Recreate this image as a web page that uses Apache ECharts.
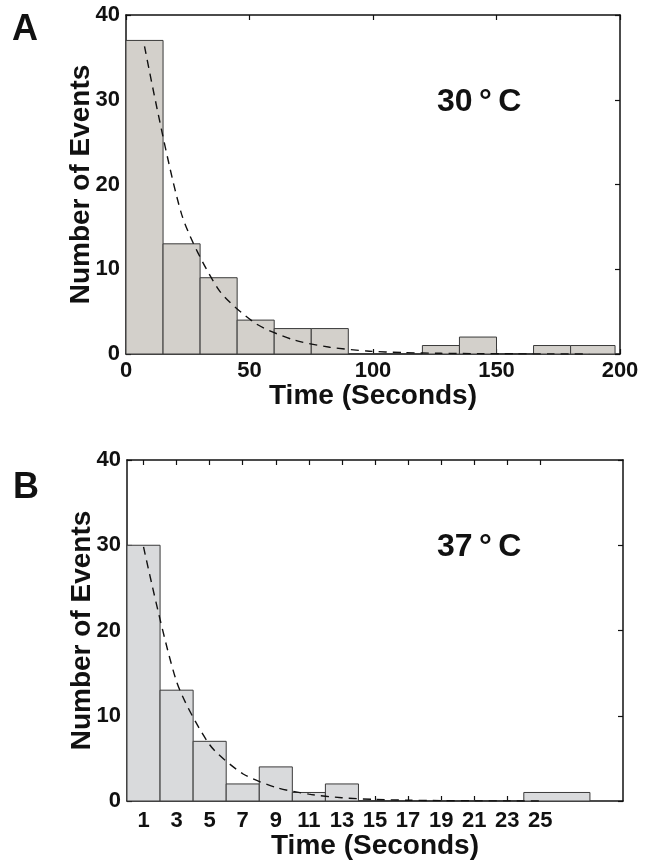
<!DOCTYPE html>
<html>
<head>
<meta charset="utf-8">
<script src="https://cdn.jsdelivr.net/npm/echarts@6/dist/echarts.min.js"></script>
<style>
html,body{margin:0;padding:0;background:#fff;}
#chart{width:649px;height:862px;}
</style>
</head>
<body>
<div id="chart"></div>
<script>
// ---- Panel A (30 °C) ----
const A_binStart = [0, 15, 30, 45, 60, 75, 90, 105, 120, 135, 150, 165, 180];
const A_binEnd   = [15, 30, 45, 60, 75, 90, 105, 120, 135, 150, 165, 180, 198];
const A_counts   = [37, 13, 9, 4, 3, 3, 0, 0, 1, 2, 0, 1, 1];
const A_fitX     = [7.5, 22.5, 37.5, 52.5, 67.5, 82.5, 97.5, 112.5, 127.5, 142.5, 157.5, 172.5, 187.5];
const A_fitY     = [36.3, 16.5, 7.6, 3.6, 1.7, 0.8, 0.35, 0.17, 0.08, 0.04, 0.02, 0.01, 0.0];
const A_xTicks   = [0, 50, 100, 150, 200];

// ---- Panel B (37 °C) ----
const B_binStart = [0, 2, 4, 6, 8, 10, 12, 14, 16, 18, 20, 22, 24];
const B_binEnd   = [2, 4, 6, 8, 10, 12, 14, 16, 18, 20, 22, 24, 28];
const B_counts   = [30, 13, 7, 2, 4, 1, 2, 0, 0, 0, 0, 0, 1];
const B_fitX     = [1, 3, 5, 7, 9, 11, 13, 15, 17, 19, 21, 23, 25];
const B_fitY     = [29.8, 14.0, 6.6, 3.2, 1.6, 0.8, 0.38, 0.18, 0.09, 0.04, 0.02, 0.01, 0.0];
const B_xTicks   = [1, 3, 5, 7, 9, 11, 13, 15, 17, 19, 21, 23, 25];

const yTicks = [0, 10, 20, 30, 40];
const yName = 'Number of Events';
const xName = 'Time (Seconds)';
const labelA = 'A', labelB = 'B';
const tempA = '30\u2009°\u2009C', tempB = '37\u2009°\u2009C';

const FONT = '"Liberation Sans", Arial, Helvetica, sans-serif';
const INK = '#111';

function zip3(a, b, c) { return a.map((v, i) => [v, b[i], c[i]]); }
function zip2(a, b) { return a.map((v, i) => [v, b[i]]); }

function barRender(fill) {
  return function (params, api) {
    const s = api.value(0), e = api.value(1), c = api.value(2);
    const p0 = api.coord([s, c]);
    const p1 = api.coord([e, 0]);
    return {
      type: 'rect',
      shape: { x: p0[0], y: p0[1], width: p1[0] - p0[0], height: p1[1] - p0[1] },
      style: { fill: fill, stroke: '#3a3a3a', lineWidth: 1 }
    };
  };
}

const axisLine = { show: true, onZero: false, lineStyle: { color: INK, width: 1.5 } };
const tick = { show: true, inside: true, length: 5, lineStyle: { color: INK, width: 1.2 } };
const lbl = { color: INK, fontFamily: FONT, fontWeight: 'bold', fontSize: 22 };
const nameStyle = { color: INK, fontFamily: FONT, fontWeight: 'bold', fontSize: 28 };

function yAxisPair(gi) {
  return [
    { type: 'value', gridIndex: gi, min: 0, max: 40, interval: 10, position: 'left',
      axisLine: axisLine, axisTick: tick, splitLine: { show: false },
      axisLabel: Object.assign({ margin: 6, customValues: yTicks }, lbl),
      name: yName, nameLocation: 'middle', nameRotate: 90, nameGap: 31, nameMoveOverlap: false,
      nameTextStyle: nameStyle },
    { type: 'value', gridIndex: gi, min: 0, max: 40, interval: 10, position: 'right',
      axisLine: axisLine, axisTick: tick, splitLine: { show: false }, axisLabel: { show: false } }
  ];
}

const option = {
  animation: false,
  backgroundColor: '#fff',
  grid: [
    { left: 126, top: 15, width: 494, height: 339 },
    { left: 127, top: 460, width: 496, height: 341 }
  ],
  xAxis: [
    { type: 'value', gridIndex: 0, min: 0, max: 200, interval: 50, position: 'bottom',
      axisLine: axisLine, axisTick: tick, splitLine: { show: false },
      axisLabel: Object.assign({ margin: 6, customValues: A_xTicks }, lbl),
      name: xName, nameLocation: 'middle', nameGap: 28, nameMoveOverlap: false, nameTextStyle: nameStyle },
    { type: 'value', gridIndex: 0, min: 0, max: 200, interval: 50, position: 'top',
      axisLine: axisLine, axisTick: tick, splitLine: { show: false }, axisLabel: { show: false } },
    { type: 'value', gridIndex: 1, min: 0, max: 30, position: 'bottom',
      axisLine: axisLine, axisTick: Object.assign({ customValues: B_xTicks }, tick), splitLine: { show: false },
      axisLabel: Object.assign({ margin: 9, customValues: B_xTicks }, lbl),
      name: xName, nameLocation: 'middle', nameGap: 31, nameMoveOverlap: false, nameTextStyle: nameStyle },
    { type: 'value', gridIndex: 1, min: 0, max: 30, position: 'top',
      axisLine: axisLine, axisTick: Object.assign({ customValues: B_xTicks }, tick), splitLine: { show: false },
      axisLabel: { show: false } }
  ],
  yAxis: yAxisPair(0).concat(yAxisPair(1)),
  series: [
    { type: 'custom', xAxisIndex: 0, yAxisIndex: 0, renderItem: barRender('#d3d0cb'),
      encode: { x: [0, 1], y: 2 }, data: zip3(A_binStart, A_binEnd, A_counts), z: 2 },
    { type: 'line', xAxisIndex: 0, yAxisIndex: 0, data: zip2(A_fitX, A_fitY), showSymbol: false,
      symbol: 'none', smooth: 0.25, lineStyle: { color: INK, width: 1.4, type: [8, 6] }, z: 3 },
    { type: 'custom', xAxisIndex: 2, yAxisIndex: 2, renderItem: barRender('#d9dadc'),
      encode: { x: [0, 1], y: 2 }, data: zip3(B_binStart, B_binEnd, B_counts), z: 2 },
    { type: 'line', xAxisIndex: 2, yAxisIndex: 2, data: zip2(B_fitX, B_fitY), showSymbol: false,
      symbol: 'none', smooth: 0.25, lineStyle: { color: INK, width: 1.4, type: [8, 6] }, z: 3 }
  ],
  graphic: [
    { type: 'text', left: 12, top: 12, style: { text: labelA, fill: INK, font: 'bold 36px ' + FONT } },
    { type: 'text', left: 13, top: 470, style: { text: labelB, fill: INK, font: 'bold 36px ' + FONT } },
    { type: 'text', left: 437, top: 86, style: { text: tempA, fill: INK, font: 'bold 32px ' + FONT } },
    { type: 'text', left: 437, top: 531, style: { text: tempB, fill: INK, font: 'bold 32px ' + FONT } }
  ]
};

const chart = echarts.init(document.getElementById('chart'), null, { renderer: 'canvas' });
chart.setOption(option);
</script>
</body>
</html>
